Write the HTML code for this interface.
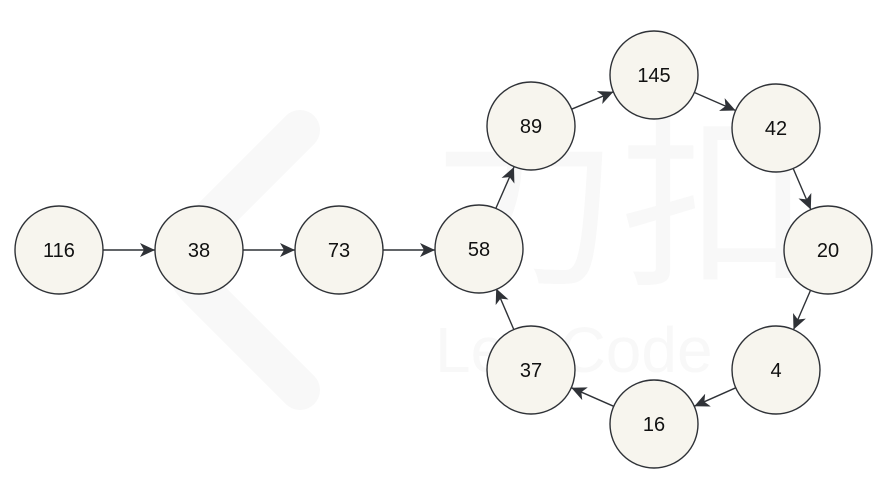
<!DOCTYPE html>
<html><head><meta charset="utf-8"><style>
html,body{margin:0;padding:0;background:#fff;}
svg{display:block;}
text{font-family:"Liberation Sans",Arial,sans-serif;}
</style></head><body>
<svg width="895" height="489" viewBox="0 0 895 489" xmlns="http://www.w3.org/2000/svg">
<defs>
<marker id="a" markerUnits="userSpaceOnUse" markerWidth="16" markerHeight="14" refX="15" refY="7" orient="auto">
<path d="M0,0 L15,7 L0,14 L4,7 z" fill="#2f3237"/>
</marker>
</defs>
<text x="430" y="270" font-size="190" font-family="'Noto Sans CJK SC',sans-serif" fill="#f8f8f8">力扣</text>
<text x="435" y="372" font-size="64" fill="#f8f8f8">LeetCode</text>
<path d="M300,130 L200,230 Q170,260 200,290 L300,390" stroke="#f8f8f8" stroke-width="40" fill="none" stroke-linecap="round"/>
<g stroke="#2f3237" stroke-width="1.4" fill="none" marker-end="url(#a)">
<line x1="103" y1="250" x2="155" y2="250"/>
<line x1="243" y1="250" x2="295" y2="250"/>
<line x1="383" y1="250" x2="435" y2="250"/>
<line x1="496" y1="208" x2="514" y2="167"/>
<line x1="571.6" y1="109.2" x2="613.4" y2="91.8"/>
<line x1="694.4" y1="92.5" x2="735.6" y2="110.5"/>
<line x1="793.2" y1="168.5" x2="810.8" y2="209.5"/>
<line x1="810.5" y1="290.4" x2="793.5" y2="329.6"/>
<line x1="735.7" y1="387.8" x2="694.3" y2="406.2"/>
<line x1="613.7" y1="406.3" x2="571.3" y2="387.7"/>
<line x1="513.8" y1="329.5" x2="496.2" y2="288.5"/>
</g>
<g fill="#f7f5ee" stroke="#2f3237" stroke-width="1.4">
<circle cx="59" cy="250" r="44"/>
<circle cx="199" cy="250" r="44"/>
<circle cx="339" cy="250" r="44"/>
<circle cx="479" cy="249" r="44"/>
<circle cx="531" cy="126" r="44"/>
<circle cx="654" cy="75" r="44"/>
<circle cx="776" cy="128" r="44"/>
<circle cx="828" cy="250" r="44"/>
<circle cx="776" cy="370" r="44"/>
<circle cx="654" cy="424" r="44"/>
<circle cx="531" cy="370" r="44"/>
</g>
<g font-size="20" fill="#111" text-anchor="middle">
<text x="59" y="257">116</text>
<text x="199" y="257">38</text>
<text x="339" y="257">73</text>
<text x="479" y="256">58</text>
<text x="531" y="133">89</text>
<text x="654" y="82">145</text>
<text x="776" y="135">42</text>
<text x="828" y="257">20</text>
<text x="776" y="377">4</text>
<text x="654" y="431">16</text>
<text x="531" y="377">37</text>
</g>
</svg>
</body></html>
